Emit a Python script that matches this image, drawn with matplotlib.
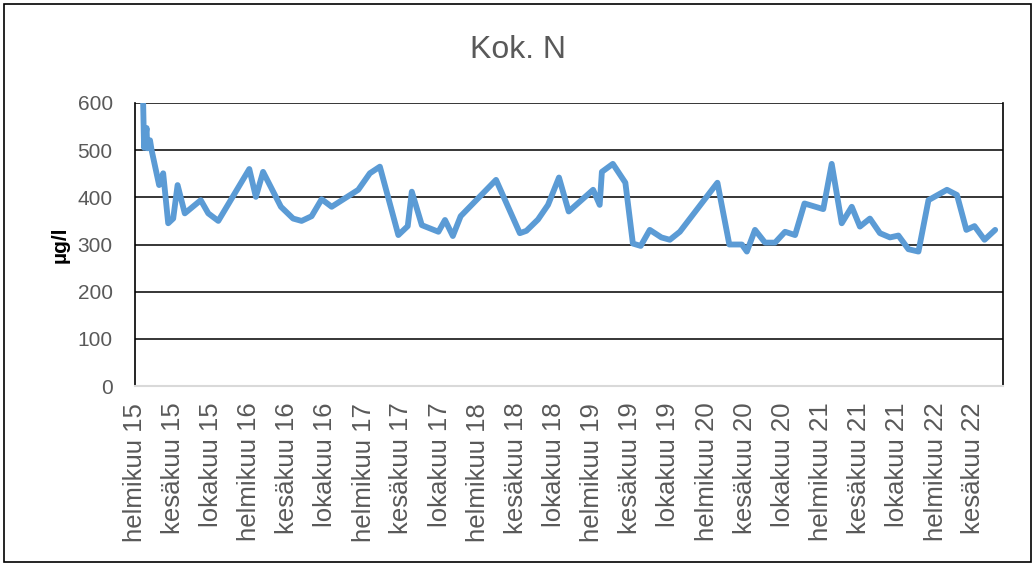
import matplotlib.pyplot as plt
import matplotlib.dates as mdates
import matplotlib.patches as patches
import pandas as pd

# Sample dates and total nitrogen (µg/l)
dates = [
    "2015-02-27", "2015-03-02", "2015-03-10", "2015-03-12", "2015-03-21", "2015-03-26",
    "2015-04-19", "2015-05-02", "2015-05-18", "2015-06-03", "2015-06-17", "2015-07-10",
    "2015-08-30", "2015-09-23", "2015-10-25", "2016-02-01", "2016-02-22", "2016-03-16",
    "2016-05-12", "2016-06-20", "2016-07-17", "2016-08-18", "2016-09-19", "2016-10-21",
    "2017-01-14", "2017-02-20", "2017-03-24", "2017-05-22", "2017-06-21", "2017-07-04",
    "2017-08-05", "2017-09-27", "2017-10-18", "2017-11-12", "2017-12-07", "2018-03-30",
    "2018-06-14", "2018-07-05", "2018-08-11", "2018-09-12", "2018-10-17", "2018-11-17",
    "2019-02-03", "2019-02-24", "2019-03-03", "2019-04-07", "2019-05-17", "2019-06-10",
    "2019-07-05", "2019-08-03", "2019-09-09", "2019-10-06", "2019-11-07", "2020-03-06",
    "2020-04-13", "2020-05-23", "2020-06-08", "2020-07-04", "2020-08-05", "2020-09-06",
    "2020-10-08", "2020-11-09", "2020-12-09", "2021-02-07", "2021-03-06", "2021-04-07",
    "2021-05-09", "2021-06-04", "2021-07-06", "2021-08-07", "2021-09-08", "2021-10-05",
    "2021-11-06", "2021-12-08", "2022-01-09", "2022-03-09", "2022-04-10", "2022-05-10",
    "2022-06-05", "2022-07-07", "2022-08-10",
]
kok_n = [
    600, 505, 547, 504, 521, 500,
    426, 451, 345, 355, 426, 366,
    394, 366, 350, 460, 401, 454,
    380, 355, 350, 360, 396, 380,
    416, 451, 465, 320, 339, 412,
    341, 327, 352, 318, 360, 437,
    324, 329, 353, 384, 442, 370,
    416, 384, 454, 471, 431, 302,
    297, 331, 315, 310, 327, 431,
    300, 300, 285, 331, 304, 304,
    327, 320, 387, 375, 471, 345,
    380, 338, 355, 324, 315, 319,
    290, 285, 394, 416, 405, 331,
    339, 310, 331,
]
month_names = {2: "helmikuu", 6: "kesäkuu", 10: "lokakuu"}
y_ticks = [0, 100, 200, 300, 400, 500, 600]

grey = "#595959"
fig = plt.figure(figsize=(10.35, 5.66), dpi=100)
ax = fig.add_axes([135 / 1035, 1 - 386 / 566, (1003 - 135) / 1035, (386 - 103) / 566])

ax.plot(pd.to_datetime(dates), kok_n, color="#5B9BD5", linewidth=4.2,
        solid_joinstyle="round", solid_capstyle="round", zorder=3)

ax.set_ylim(0, 600)
ax.set_yticks(y_ticks)
ax.set_xlim(pd.Timestamp("2015-02-01"), pd.Timestamp("2022-09-04"))
ax.xaxis.set_major_locator(mdates.MonthLocator(bymonth=[2, 6, 10]))
ax.xaxis.set_major_formatter(plt.FuncFormatter(
    lambda v, pos: "%s %s" % (month_names[mdates.num2date(v).month],
                              mdates.num2date(v).strftime("%y"))))

ax.grid(axis="y", color="black", linewidth=1.1)
ax.set_axisbelow(True)
for side in ["left", "right"]:
    ax.spines[side].set_color("black")
    ax.spines[side].set_linewidth(1.2)
ax.spines["top"].set_visible(False)
ax.spines["bottom"].set_color("#d9d9d9")
ax.spines["bottom"].set_linewidth(1.5)

ax.tick_params(axis="y", length=0, pad=16, labelsize=15, labelcolor=grey)
ax.tick_params(axis="x", length=0, pad=12, labelsize=18.5, labelcolor=grey,
               labelrotation=90)
for lab in ax.get_xticklabels() + ax.get_yticklabels():
    lab.set_fontfamily("Liberation Sans")

fig.text(518 / 1035, 1 - 50 / 566, "Kok. N", ha="center", va="center",
         fontsize=23, color=grey, fontfamily="Liberation Sans")
fig.text(60 / 1035, 1 - 245 / 566, "µg/l", ha="center", va="center",
         rotation=90, fontsize=15, fontweight="bold", fontfamily="Liberation Sans")

# outer chart border
fig.patches.append(patches.Rectangle((4 / 1035, 4 / 566), 1027 / 1035, 558 / 566,
                                     transform=fig.transFigure, fill=False,
                                     edgecolor="black", linewidth=1.2))

fig.savefig("out.png", dpi=100)
